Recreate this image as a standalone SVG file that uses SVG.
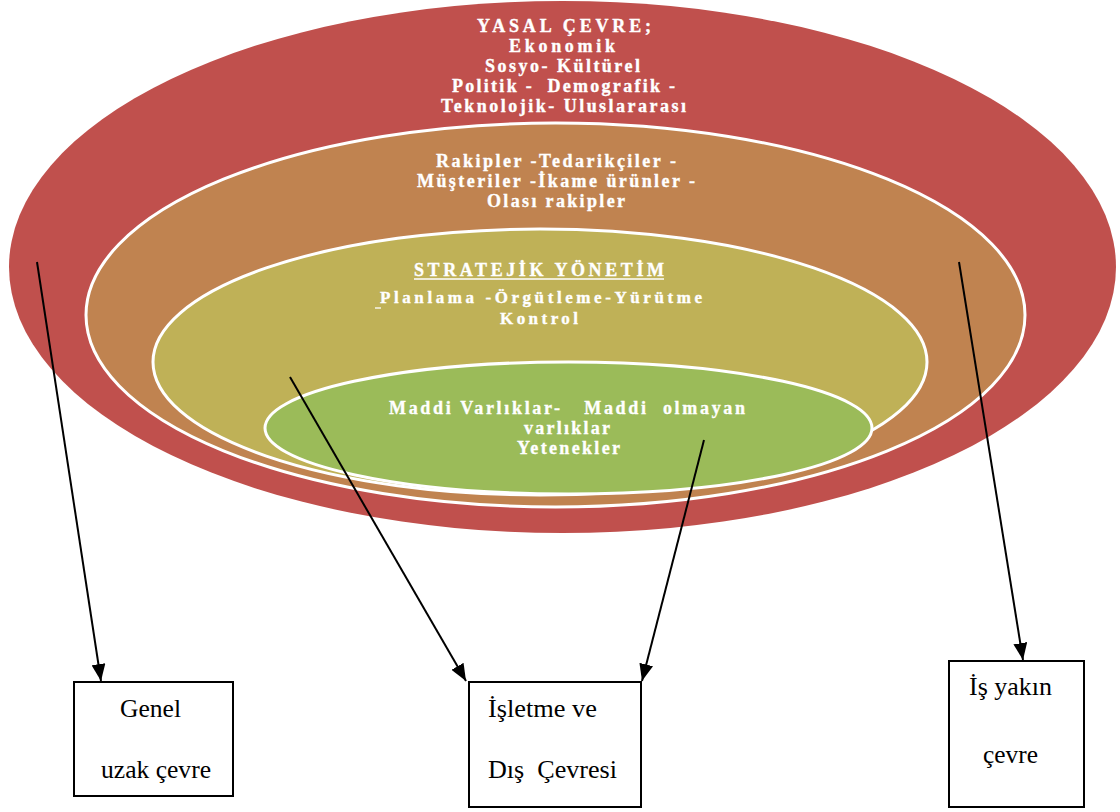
<svg xmlns="http://www.w3.org/2000/svg" width="1120" height="812" viewBox="0 0 1120 812">
  <style>
    .ring { stroke: #FFFFFF; stroke-width: 3; }
    .in { font-family: "Liberation Serif", "Times New Roman", "DejaVu Serif", serif; font-weight: 700; font-size: 18px; fill: #FFFFFF; stroke: #FFFFFF; stroke-width: 0.35; white-space: pre; }
    .l3 { font-size: 17px; }
    .box { fill: #FFFFFF; stroke: #000000; stroke-width: 2; }
    .bt { font-family: "Liberation Serif", "Times New Roman", serif; font-size: 24.5px; fill: #000000; white-space: pre; }
    .conn { stroke: #000000; stroke-width: 2; fill: none; marker-end: url(#arrow); }
  </style>
  <defs>
    <marker id="arrow" markerUnits="userSpaceOnUse" markerWidth="18" markerHeight="14" refX="17" refY="7" orient="auto">
      <path d="M0,0 L17,7 L0,14 z" fill="#000000"/>
    </marker>
  </defs>
  <rect x="0" y="0" width="1120" height="812" fill="#FFFFFF"/>

  <g id="yasal-cevre">
    <ellipse cx="562.5" cy="267" rx="553.5" ry="266" fill="#C0504D"/>
    <text class="in" x="477" y="32" textLength="174" lengthAdjust="spacing">YASAL ÇEVRE;</text>
    <text class="in" x="509" y="52" textLength="106" lengthAdjust="spacing">Ekonomik</text>
    <text class="in" x="485" y="72" textLength="155" lengthAdjust="spacing">Sosyo- Kültürel</text>
    <text class="in" x="452" y="92" textLength="223" lengthAdjust="spacing">Politik -  Demografik -</text>
    <text class="in" x="441" y="112" textLength="245" lengthAdjust="spacing">Teknolojik- Uluslararası</text>
  </g>

  <g id="rekabet-cevresi">
    <ellipse class="ring" cx="555.5" cy="315" rx="469.5" ry="192" fill="#C08350"/>
    <text class="in" x="436" y="167" textLength="240" lengthAdjust="spacing">Rakipler -Tedarikçiler -</text>
    <text class="in" x="417" y="187" textLength="278" lengthAdjust="spacing">Müşteriler -İkame ürünler -</text>
    <text class="in" x="487" y="206.5" textLength="138" lengthAdjust="spacing">Olası rakipler</text>
  </g>

  <g id="stratejik-yonetim">
    <ellipse class="ring" cx="540" cy="362" rx="387" ry="133" fill="#BFB157"/>
    <text class="in" x="414" y="276" textLength="250" lengthAdjust="spacing">STRATEJİK YÖNETİM</text>
    <line x1="414" y1="279" x2="664" y2="279" stroke="#FFFFFF" stroke-width="1.3"/>
    <line x1="375" y1="308" x2="381" y2="308" stroke="#FFFFFF" stroke-width="1.3"/>
    <text class="in l3" x="380" y="303" textLength="322" lengthAdjust="spacing">Planlama -Örgütleme-Yürütme</text>
    <text class="in l3" x="500" y="324" textLength="78" lengthAdjust="spacing">Kontrol</text>
  </g>

  <g id="kaynaklar">
    <ellipse class="ring" cx="568.5" cy="428" rx="303.5" ry="66" fill="#9BBB59"/>
    <text class="in" x="389" y="414" textLength="356" lengthAdjust="spacing">Maddi Varlıklar-   Maddi  olmayan</text>
    <text class="in" x="524" y="434" textLength="86" lengthAdjust="spacing">varlıklar</text>
    <text class="in" x="517" y="453.5" textLength="103" lengthAdjust="spacing">Yetenekler</text>
  </g>

  <g id="connectors">
    <line class="conn" x1="37" y1="262" x2="101" y2="681"/>
    <line class="conn" x1="290" y1="377" x2="466" y2="681"/>
    <line class="conn" x1="704" y1="440" x2="642" y2="681"/>
    <line class="conn" x1="959" y1="262" x2="1023" y2="660"/>
  </g>

  <g id="genel-uzak-cevre">
    <rect class="box" x="74" y="682" width="159" height="114"/>
    <text class="bt" x="120" y="717" textLength="61" lengthAdjust="spacingAndGlyphs">Genel</text>
    <text class="bt" x="101" y="778" textLength="110" lengthAdjust="spacingAndGlyphs">uzak çevre</text>
  </g>

  <g id="isletme-dis-cevresi">
    <rect class="box" x="469" y="682" width="172" height="125"/>
    <text class="bt" x="488" y="717" textLength="109" lengthAdjust="spacingAndGlyphs">İşletme ve</text>
    <text class="bt" x="488" y="778" textLength="129" lengthAdjust="spacingAndGlyphs">Dış  Çevresi</text>
  </g>

  <g id="is-yakin-cevre">
    <rect class="box" x="949" y="661" width="135" height="146"/>
    <text class="bt" x="969" y="695" textLength="83" lengthAdjust="spacingAndGlyphs">İş yakın</text>
    <text class="bt" x="983" y="763" textLength="55" lengthAdjust="spacingAndGlyphs">çevre</text>
  </g>
</svg>
